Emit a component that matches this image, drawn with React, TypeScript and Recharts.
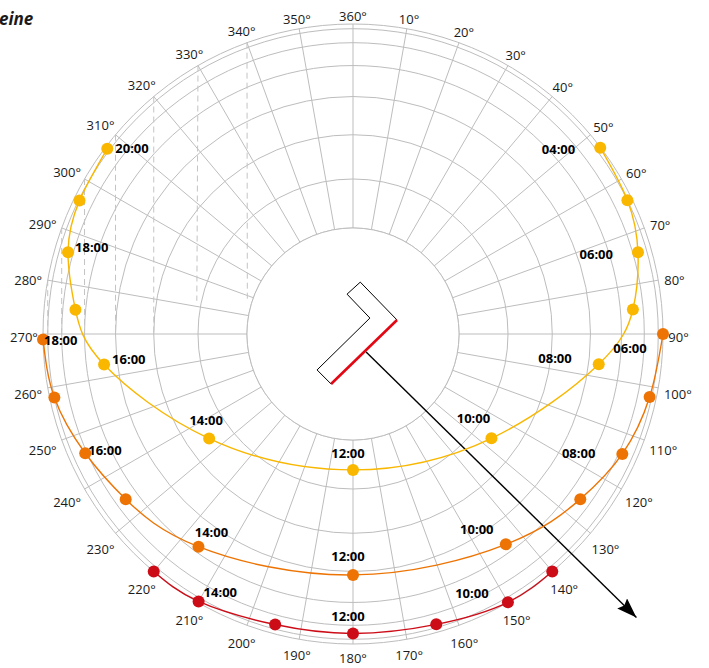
import React from 'react';
import { RadarChart, PolarGrid, PolarAngleAxis, PolarRadiusAxis, Radar, Curve } from 'recharts';

// layout of the diagram
const CX = 353;
const CY = 334;
const R = 310;

// azimuth spokes and elevation rings
const azTicks = [0, 10, 20, 30, 40, 50, 60, 70, 80, 90, 100, 110, 120, 130, 140, 150, 160, 170,
  180, 190, 200, 210, 220, 230, 240, 250, 260, 270, 280, 290, 300, 310, 320, 330, 340, 350];
const elRings = [70, 60, 50, 40, 30, 20, 10, 0];
const innerRingEl = 70;

// 21 June
const summerHours = [4, 5, 6, 7, 8, 10, 12, 14, 16, 17, 18, 19, 20];
const summerAz = [53, 64, 74, 85, 97, 127, 180, 234, 263, 275, 286, 296, 307];
const summerEl = [3, 10, 17, 25, 37, 56, 64, 55, 36, 26, 17, 11, 7];

// 21 March / 23 September
const equinoxHours = [6, 7, 8, 9, 10, 12, 14, 15, 16, 17, 18];
const equinoxAz = [90, 102, 114, 126, 144, 180, 216, 234, 246, 258, 269];
const equinoxEl = [0, 12, 18, 25, 33, 39, 32, 25, 19, 10, 0];

// 21 December
const winterHours = [9, 10, 11, 12, 13, 14, 15];
const winterAz = [140, 150, 164, 180, 195, 210, 220];
const winterEl = [0, 2, 13, 15, 14, 5, 0];

// building footprint (plan distance as fraction of horizon radius)
const buildingAz = [8, 351.5, 46.7, 225, 203.7, 72.3];
const buildingDist = [0.169, 0.13, 0.075, 0.164, 0.176, 0.149];
const facadeAz = [203.7, 72.3];
const facadeDist = [0.176, 0.149];
const arrowAz = [144, 135];
const arrowDist = [0.072, 1.293];

// dashed construction lines: from horizon point to end point
const dashStartAz = [280, 290, 300, 310, 320, 330, 340];
const dashEndAz = [270, 270, 270, 270, 270, 282, 288];
const dashEndEl = [10, 20, 30, 40, 50, 59, 69];

const COLORS = { summer: '#f9b700', equinox: '#ed7404', winter: '#cc0d18' };

const labelPlace: Record<string, Record<number, [number, number, string]>> = {
  summer: {
    4: [-25, 1, 'end'], 6: [-25, 2, 'end'], 8: [-27, -6, 'end'], 10: [-18, -20, 'middle'],
    12: [-5, -17, 'middle'], 14: [-3, -19, 'middle'], 16: [8, -6, 'start'], 18: [7, -5, 'start'], 20: [8, -1, 'start'],
  },
  equinox: {
    6: [-33, 14, 'middle'], 8: [-27, -1, 'end'], 10: [-29, -15, 'middle'], 12: [-5, -19, 'middle'],
    14: [13, -15, 'middle'], 16: [3, -3, 'start'], 18: [1, 1, 'start'],
  },
  winter: { 10: [-36, -9, 'middle'], 12: [-5, -17, 'middle'], 14: [5, -9, 'start'] },
};

const proj = (el: number) => Math.cos((el * Math.PI) / 180);

type Row = { az: number; hour?: number; [k: string]: number | undefined };
const rows: Row[] = [];
const add = (key: string, az: number, v: number, hour?: number) => rows.push({ az, hour, [key]: v });

add('disc', 0, proj(innerRingEl));
summerAz.forEach((a, i) => add('summer', a, proj(summerEl[i]), summerHours[i]));
equinoxAz.forEach((a, i) => add('equinox', a, proj(equinoxEl[i]), equinoxHours[i]));
winterAz.forEach((a, i) => add('winter', a, proj(winterEl[i]), winterHours[i]));
buildingAz.forEach((a, i) => add('building', a, buildingDist[i]));
facadeAz.forEach((a, i) => add('facade', a, facadeDist[i]));
arrowAz.forEach((a, i) => add('arrow', a, arrowDist[i]));
dashStartAz.forEach((a, i) => {
  add('dash', a, proj(0));
  add('dash', dashEndAz[i], proj(dashEndEl[i]));
});

const valid = (pts: any[]) =>
  (pts || []).filter((p) => p.value !== undefined && p.value !== null && Number.isFinite(p.x) && Number.isFinite(p.y));
const fmt = (h: number) => `${String(h).padStart(2, '0')}:00`;

const sunShape = (key: 'summer' | 'equinox' | 'winter') => (props: any) => {
  const pts = valid(props.points);
  const color = COLORS[key];
  return (
    <g>
      <Curve type="natural" points={pts} stroke={color} strokeWidth={1.4} fill="none" />
      {pts.map((p, i) => (
        <circle key={i} cx={p.x} cy={p.y} r={6} fill={color} />
      ))}
      {pts.map((p, i) => {
        const place = labelPlace[key][p.payload.hour];
        if (!place) return null;
        return (
          <text key={'t' + i} x={p.x + place[0]} y={p.y + place[1]} textAnchor={place[2] as any}
            dominantBaseline="central" fontFamily="Open Sans" fontWeight="bold" fontSize={13} fill="#000">
            {fmt(p.payload.hour)}
          </text>
        );
      })}
    </g>
  );
};

const discShape = (props: any) => {
  const p = valid(props.points)[0];
  if (!p) return <g />;
  return <circle cx={p.cx} cy={p.cy} r={p.radius} fill="#fff" stroke="#bdbdbd" strokeWidth={1} />;
};

const dashShape = (props: any) => {
  const pts = valid(props.points);
  const segs = [];
  for (let i = 0; i + 1 < pts.length; i += 2) {
    segs.push(<line key={i} x1={pts[i].x} y1={pts[i].y} x2={pts[i + 1].x} y2={pts[i + 1].y}
      stroke="#c4c4c4" strokeDasharray="6 4" strokeWidth={1} />);
  }
  return <g>{segs}</g>;
};

const buildingShape = (props: any) => {
  const pts = valid(props.points);
  const d = pts.map((p, i) => `${i ? 'L' : 'M'}${p.x},${p.y}`).join(' ') + ' Z';
  return <path d={d} fill="none" stroke="#000" strokeWidth={1} />;
};

const facadeShape = (props: any) => {
  const pts = valid(props.points);
  if (pts.length < 2) return <g />;
  return <line x1={pts[0].x} y1={pts[0].y} x2={pts[1].x} y2={pts[1].y} stroke="#e30613" strokeWidth={2.6} />;
};

const arrowShape = (props: any) => {
  const pts = valid(props.points);
  if (pts.length < 2) return <g />;
  return (
    <g>
      <defs>
        <marker id="arrowHead" markerUnits="userSpaceOnUse" markerWidth={22} markerHeight={16}
          refX={20} refY={7} orient="auto">
          <path d="M0,0 L20,7 L0,14 L3,7 Z" fill="#000" />
        </marker>
      </defs>
      <line x1={pts[0].x} y1={pts[0].y} x2={pts[1].x} y2={pts[1].y} stroke="#000" strokeWidth={1.4}
        markerEnd="url(#arrowHead)" />
    </g>
  );
};

const AngleTick = (props: any) => {
  const { x, y, payload } = props;
  const dx = x - CX;
  const dy = y - CY;
  const len = Math.hypot(dx, dy) || 1;
  const ux = dx / len;
  const uy = dy / len;
  const label = `${payload.value === 0 ? 360 : payload.value}°`;
  const hw = label.length * 3.5;
  const d = R + 5 + hw * Math.abs(ux) + 6 * Math.abs(uy);
  return (
    <text x={CX + ux * d} y={CY + uy * d + 3} textAnchor="middle" dominantBaseline="central"
      fontFamily="Open Sans" fontSize={13} fill="#1a1a1a">
      {label}
    </text>
  );
};

export default function App() {
  return (
    <div style={{ position: 'absolute', left: 0, top: 0, width: 709, height: 668, background: '#fff' }}>
      <RadarChart width={709} height={668} data={rows} cx={CX} cy={CY}
        innerRadius={0} outerRadius={R} margin={{ top: 0, right: 0, bottom: 0, left: 0 }}>
        <PolarGrid gridType="circle" stroke="#bdbdbd" strokeWidth={1} />
        <PolarAngleAxis dataKey="az" type="number" domain={[0, 360]} ticks={azTicks as any}
          axisLine={false} tickLine={false} tick={<AngleTick />} />
        <PolarRadiusAxis type="number" domain={[0, 1]} allowDataOverflow
          ticks={elRings.map(proj) as any} tick={false} axisLine={false} />
        <Radar dataKey="disc" shape={discShape} isAnimationActive={false} dot={false} activeDot={false} legendType="none" />
        <Radar dataKey="dash" shape={dashShape} isAnimationActive={false} dot={false} activeDot={false} legendType="none" />
        <Radar dataKey="building" shape={buildingShape} isAnimationActive={false} dot={false} activeDot={false} legendType="none" />
        <Radar dataKey="facade" shape={facadeShape} isAnimationActive={false} dot={false} activeDot={false} legendType="none" />
        <Radar dataKey="arrow" shape={arrowShape} isAnimationActive={false} dot={false} activeDot={false} legendType="none" />
        <Radar dataKey="summer" shape={sunShape('summer')} isAnimationActive={false} dot={false} activeDot={false} legendType="none" />
        <Radar dataKey="equinox" shape={sunShape('equinox')} isAnimationActive={false} dot={false} activeDot={false} legendType="none" />
        <Radar dataKey="winter" shape={sunShape('winter')} isAnimationActive={false} dot={false} activeDot={false} legendType="none" />
      </RadarChart>
      <svg width={80} height={40} style={{ position: 'absolute', left: 0, top: 0 }}>
        <text x={-1} y={25} fontFamily="Open Sans" fontWeight="bold" fontStyle="italic" fontSize={17} fill="#1a1a1a">
          eine
        </text>
      </svg>
    </div>
  );
}
